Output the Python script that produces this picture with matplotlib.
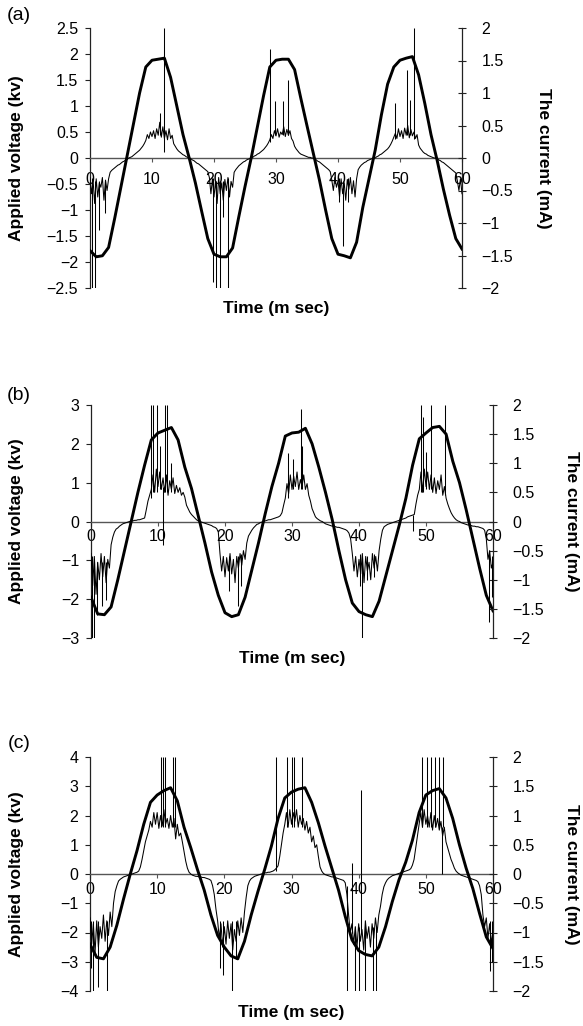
import numpy as np
import matplotlib
matplotlib.use("Agg")
import matplotlib.pyplot as plt
from matplotlib.ticker import FuncFormatter, MultipleLocator

plt.rcParams['font.family'] = ['Liberation Sans', 'DejaVu Sans']

# ---------------- data ----------------
time_ms = np.arange(0, 61)            # voltage samples, 1 ms apart
cur_time_ms = np.arange(0, 241) * 0.25  # current samples, 0.25 ms apart

volt_a = [-1.78, -1.90, -1.88, -1.72, -1.15, -0.55, 0.05, 0.65, 1.25, 1.75,
          1.88, 1.90, 1.92, 1.55, 1.00, 0.45, 0.00, -0.48, -1.02, -1.55,
          -1.85, -1.90, -1.90, -1.73, -1.13, -0.55, 0.00, 0.60, 1.20, 1.75,
          1.88, 1.90, 1.90, 1.70, 1.15, 0.62, 0.10, -0.42, -1.00, -1.55,
          -1.85, -1.88, -1.92, -1.62, -0.95, -0.40, 0.15, 0.83, 1.42, 1.75,
          1.88, 1.92, 1.95, 1.60, 1.05, 0.45, -0.05, -0.60, -1.10, -1.55,
          -1.75]

volt_b = [-1.95, -2.38, -2.40, -2.20, -1.50, -0.75, 0.00, 0.75, 1.45, 2.10,
          2.28, 2.35, 2.42, 2.10, 1.40, 0.85, 0.15, -0.55, -1.30, -1.90,
          -2.35, -2.45, -2.40, -1.95, -1.25, -0.55, 0.20, 0.90, 1.50, 2.20,
          2.28, 2.30, 2.40, 2.00, 1.40, 0.75, 0.05, -0.75, -1.50, -2.10,
          -2.32, -2.40, -2.45, -2.05, -1.40, -0.75, -0.10, 0.60, 1.45, 2.13,
          2.28, 2.42, 2.45, 2.25, 1.55, 1.00, 0.30, -0.45, -1.20, -1.90,
          -2.30]

volt_c = [-2.40, -2.85, -2.90, -2.50, -1.75, -0.85, 0.00, 0.80, 1.70, 2.45,
          2.70, 2.85, 2.95, 2.50, 1.60, 0.90, 0.15, -0.55, -1.40, -2.10,
          -2.50, -2.80, -2.90, -2.30, -1.40, -0.60, 0.15, 0.95, 1.90, 2.60,
          2.80, 2.90, 2.95, 2.45, 1.75, 0.95, 0.20, -0.55, -1.45, -2.25,
          -2.62, -2.75, -2.80, -2.50, -1.80, -0.95, -0.20, 0.40, 1.15, 2.10,
          2.70, 2.85, 2.92, 2.60, 1.90, 1.00, 0.20, -0.50, -1.35, -2.15,
          -2.55]

cur_a = [-0.30, -0.55, -0.35, -0.70, -0.32, -0.60, -0.38, -0.45,
         -0.30, -0.65, -0.34, -0.50, -0.32, -0.22, -0.19, -0.17,
         -0.15, -0.13, -0.11, -0.10, -0.08, -0.06, -0.05, -0.03,
         -0.02, 0.00, 0.01, 0.02, 0.04, 0.06, 0.08, 0.10,
         0.12, 0.15, 0.18, 0.22, 0.27, 0.36, 0.30, 0.40,
         0.33, 0.42, 0.30, 0.45, 0.35, 0.55, 0.32, 0.48,
         0.30, 0.42, 0.28, 0.45, 0.30, 0.35, 0.22, 0.18,
         0.14, 0.11, 0.09, 0.07, 0.05, 0.04, 0.02, 0.01,
         0.00, -0.01, -0.03, -0.04, -0.06, -0.08, -0.09, -0.11,
         -0.13, -0.15, -0.17, -0.19, -0.21, -0.30, -0.55, -0.32,
         -0.60, -0.35, -0.70, -0.30, -0.55, -0.38, -0.65, -0.33,
         -0.50, -0.30, -0.60, -0.36, -0.45, -0.22, -0.18, -0.15,
         -0.12, -0.10, -0.08, -0.06, -0.05, -0.03, -0.02, -0.01,
         0.00, 0.01, 0.03, 0.04, 0.06, 0.07, 0.09, 0.11,
         0.13, 0.16, 0.19, 0.23, 0.28, 0.36, 0.30, 0.42,
         0.34, 0.45, 0.32, 0.40, 0.36, 0.48, 0.33, 0.44,
         0.35, 0.42, 0.30, 0.26, 0.18, 0.14, 0.11, 0.08,
         0.06, 0.05, 0.04, 0.03, 0.02, 0.01, 0.01, 0.00,
         0.00, -0.02, -0.03, -0.05, -0.06, -0.08, -0.10, -0.12,
         -0.14, -0.16, -0.18, -0.21, -0.34, -0.50, -0.30, -0.45,
         -0.35, -0.60, -0.32, -0.55, -0.38, -0.65, -0.33, -0.48,
         -0.30, -0.55, -0.35, -0.60, -0.32, -0.18, -0.14, -0.11,
         -0.09, -0.07, -0.06, -0.04, -0.03, -0.02, -0.01, 0.00,
         0.00, 0.02, 0.03, 0.05, 0.06, 0.08, 0.10, 0.12,
         0.14, 0.17, 0.21, 0.26, 0.32, 0.38, 0.30, 0.45,
         0.33, 0.42, 0.30, 0.46, 0.35, 0.50, 0.31, 0.44,
         0.34, 0.40, 0.30, 0.36, 0.20, 0.15, 0.12, 0.09,
         0.07, 0.06, 0.04, 0.03, 0.02, 0.01, 0.00, 0.00,
         -0.01, -0.03, -0.04, -0.06, -0.07, -0.09, -0.11, -0.13,
         -0.15, -0.17, -0.19, -0.21, -0.23, -0.35, -0.50, -0.32,
         -0.55]

cur_b = [-0.55, -1.10, -0.60, -1.25, -0.70, -1.00, -0.55, -0.95,
         -0.60, -1.05, -0.65, -0.80, -0.40, -0.27, -0.18, -0.13,
         -0.11, -0.08, -0.06, -0.04, -0.03, -0.02, -0.01, 0.00,
         0.01, 0.01, 0.02, 0.02, 0.03, 0.03, 0.04, 0.05,
         0.06, 0.20, 0.35, 0.45, 0.55, 0.80, 0.50, 0.90,
         0.60, 0.85, 0.55, 0.75, 0.50, 0.80, 0.45, 0.70,
         0.55, 0.75, 0.48, 0.62, 0.50, 0.58, 0.45, 0.50,
         0.42, 0.28, 0.22, 0.16, 0.12, 0.09, 0.06, 0.03,
         0.01, 0.00, -0.01, -0.02, -0.03, -0.04, -0.05, -0.06,
         -0.07, -0.09, -0.10, -0.12, -0.18, -0.55, -0.85, -0.60,
         -0.95, -0.62, -0.85, -0.55, -0.90, -0.65, -1.05, -0.60,
         -0.80, -0.55, -0.75, -0.50, -0.65, -0.37, -0.25, -0.20,
         -0.15, -0.11, -0.08, -0.05, -0.04, -0.02, -0.01, 0.00,
         0.01, 0.02, 0.03, 0.03, 0.04, 0.05, 0.06, 0.07,
         0.08, 0.10, 0.15, 0.28, 0.40, 0.65, 0.48, 0.80,
         0.55, 0.78, 0.60, 0.85, 0.55, 0.72, 0.60, 0.80,
         0.55, 0.65, 0.45, 0.35, 0.22, 0.15, 0.08, 0.05,
         0.03, 0.01, 0.00, -0.02, -0.04, -0.05, -0.06, -0.07,
         -0.08, -0.08, -0.09, -0.10, -0.10, -0.11, -0.12, -0.13,
         -0.14, -0.16, -0.20, -0.30, -0.55, -0.85, -0.60, -0.95,
         -0.65, -0.90, -0.55, -1.05, -0.60, -0.85, -0.70, -1.00,
         -0.55, -0.80, -0.60, -0.85, -0.50, -0.30, -0.15, -0.09,
         -0.07, -0.05, -0.04, -0.03, -0.02, -0.01, 0.00, 0.01,
         0.02, 0.03, 0.04, 0.05, 0.06, 0.08, 0.09, 0.10,
         0.11, 0.12, 0.30, 0.45, 0.55, 0.85, 0.50, 0.90,
         0.60, 0.85, 0.55, 0.80, 0.50, 0.75, 0.48, 0.70,
         0.55, 0.80, 0.45, 0.60, 0.40, 0.30, 0.22, 0.15,
         0.10, 0.06, 0.03, 0.01, 0.00, -0.02, -0.03, -0.04,
         -0.05, -0.06, -0.06, -0.07, -0.08, -0.08, -0.09, -0.09,
         -0.10, -0.11, -0.12, -0.15, -0.30, -0.65, -0.50, -0.80,
         -0.70]

cur_c = [-0.75, -1.20, -0.85, -1.35, -0.80, -1.25, -0.90, -1.10,
         -0.70, -1.15, -0.80, -1.05, -0.65, -0.90, -0.50, -0.30,
         -0.20, -0.12, -0.09, -0.07, -0.05, -0.04, -0.03, -0.02,
         -0.01, 0.00, 0.01, 0.02, 0.03, 0.05, 0.12, 0.25,
         0.40, 0.55, 0.65, 0.75, 0.90, 0.80, 1.05, 0.85,
         1.05, 0.78, 1.00, 0.82, 1.10, 0.85, 0.95, 0.78,
         1.00, 0.80, 0.95, 0.60, 0.85, 0.65, 0.70, 0.55,
         0.38, 0.22, 0.10, 0.03, 0.00, -0.02, -0.03, -0.04,
         -0.04, -0.05, -0.05, -0.06, -0.06, -0.07, -0.08, -0.09,
         -0.11, -0.20, -0.35, -0.60, -0.80, -1.10, -0.85, -1.25,
         -0.90, -1.20, -0.80, -1.10, -0.85, -1.30, -0.95, -1.15,
         -0.80, -1.05, -0.75, -1.00, -0.65, -0.40, -0.20, -0.12,
         -0.08, -0.06, -0.04, -0.03, -0.02, -0.01, 0.00, 0.01,
         0.02, 0.02, 0.03, 0.03, 0.04, 0.05, 0.07, 0.10,
         0.14, 0.30, 0.50, 0.70, 0.85, 1.05, 0.80, 1.10,
         0.85, 1.05, 0.90, 1.10, 0.80, 1.00, 0.85, 0.95,
         0.75, 0.90, 0.70, 0.80, 0.55, 0.65, 0.45, 0.50,
         0.30, 0.12, 0.05, 0.01, -0.01, -0.02, -0.03, -0.04,
         -0.05, -0.05, -0.06, -0.07, -0.08, -0.09, -0.10, -0.11,
         -0.15, -0.35, -0.70, -1.00, -0.85, -1.20, -0.90, -1.25,
         -0.85, -1.15, -0.95, -1.30, -0.80, -1.10, -0.90, -1.25,
         -0.85, -1.10, -0.75, -1.00, -0.70, -0.55, -0.35, -0.22,
         -0.15, -0.10, -0.07, -0.05, -0.03, -0.02, -0.01, 0.00,
         0.01, 0.02, 0.03, 0.04, 0.05, 0.06, 0.07, 0.09,
         0.15, 0.25, 0.45, 0.65, 0.85, 1.05, 0.80, 1.10,
         0.85, 1.00, 0.80, 1.05, 0.75, 1.00, 0.80, 0.95,
         0.75, 0.90, 0.65, 0.80, 0.55, 0.45, 0.35, 0.25,
         0.18, 0.10, 0.05, 0.02, 0.00, -0.02, -0.03, -0.04,
         -0.05, -0.06, -0.07, -0.08, -0.09, -0.10, -0.11, -0.13,
         -0.20, -0.35, -0.70, -0.90, -0.75, -1.10, -0.85, -1.20,
         -0.95]

# discharge spikes in the current trace (time, low end, high end) in mA
spike_a_t = [0.3, 0.8, 1.4, 2.4, 11.3, 12.0, 19.8, 20.3, 20.9, 21.5, 22.2,
             29.0, 29.8, 31.1, 31.9, 40.2, 40.8, 41.6, 49.2, 51.1, 51.6, 52.3, 60.0]
spike_a_lo = [-2.0, -2.0, -1.1, -0.85, 0.35, 0.10, -1.9, -2.0, -2.0, -0.9, -2.0,
              0.25, 0.35, 0.35, 0.35, -0.68, -1.36, -0.68, 0.30, 0.35, 0.35, 0.30, -0.8]
spike_a_hi = [-0.3, -0.35, -0.35, -0.35, 0.69, 2.0, -0.3, -0.35, -0.35, -0.35, -0.3,
              1.68, 0.88, 0.88, 1.2, -0.3, -0.35, -0.3, 0.85, 1.36, 0.9, 2.0, -0.45]

spike_b_t = [0.1, 0.4, 0.9, 1.6, 2.2, 8.9, 9.3, 9.9, 10.3, 10.7, 11.0, 11.3, 12.0,
             20.6, 21.9, 22.4, 29.4, 30.2, 31.3, 31.5, 40.1, 40.5, 41.2, 42.3,
             48.1, 49.3, 49.6, 50.0, 50.8, 52.8, 59.4, 59.8]
spike_b_lo = [-2.0, -2.0, -1.6, -1.45, -1.35, 0.4, 0.5, 0.5, 0.55, -0.4, 0.5, 0.5, 0.5,
              -1.2, -1.45, -1.1, 0.4, 0.55, 0.55, 0.55, -1.1, -2.0, -1.0, -0.95,
              -0.17, 0.5, 0.5, 0.55, 0.55, 0.45, -1.73, -1.3]
spike_b_hi = [-0.6, -0.7, -0.7, -0.7, -0.7, 2.0, 2.0, 2.0, 1.3, 0.6, 2.0, 2.0, 1.0,
              -0.6, -0.6, -0.55, 1.17, 1.07, 1.93, 1.3, -0.55, -0.6, -0.6, -0.55,
              0.12, 2.0, 1.8, 1.2, 2.0, 2.0, -0.5, -0.6]

spike_c_t = [0.2, 0.5, 1.2, 2.5, 10.6, 10.8, 11.1, 12.3, 12.6, 19.3, 19.8, 21.1, 21.8,
             27.7, 29.3, 30.0, 30.3, 31.5, 38.2, 39.0, 39.4, 40.1, 40.4, 40.9, 42.1,
             42.6, 49.4, 50.2, 50.7, 51.4, 51.9, 52.4, 52.6, 59.5, 59.8]
spike_c_lo = [-1.6, -2.0, -1.93, -2.0, 0.8, 0.8, 0.8, 0.8, 0.8, -1.6, -1.73, -2.0, -1.45,
              0.05, 0.8, 0.8, 0.8, 0.8, -2.0, -1.0, -2.0, -2.0, -1.0, -2.0, -2.0,
              -2.0, 0.8, 0.8, 0.8, 0.8, 0.8, 0.0, 0.8, -1.65, -1.5]
spike_c_hi = [-0.8, -0.8, -0.8, -0.8, 2.0, 2.0, 2.0, 2.0, 2.0, -0.8, -0.8, -0.8, -0.8,
              2.0, 2.0, 2.0, 2.0, 2.0, -0.2, 0.18, -0.9, -0.9, 1.43, -0.9, -0.9,
              -0.9, 2.0, 2.0, 2.0, 2.0, 2.0, 0.8, 2.0, -0.8, -0.8]

x_ticks = [0, 10, 20, 30, 40, 50, 60]
panel_tags = ['(a)', '(b)', '(c)']
volt_limits = [2.5, 3, 4]
volt_steps = [0.5, 1, 1]
cur_limit = 2
cur_step = 0.5

# ---------------- layout (pixels) ----------------
W, H = 583, 1026
fig = plt.figure(figsize=(W / 100, H / 100), dpi=100)

boxes = [(90, 28, 462, 288), (91, 405, 493, 638), (90, 757, 493, 991)]
xpads = [7.0, 2.5, 3.0]
right_label_x = [543, 571, 571]
tag_y = [15, 395, 743]

volts = [volt_a, volt_b, volt_c]
curs = [cur_a, cur_b, cur_c]
spikes = [(spike_a_t, spike_a_lo, spike_a_hi),
          (spike_b_t, spike_b_lo, spike_b_hi),
          (spike_c_t, spike_c_lo, spike_c_hi)]

TICK_FS = 11.5
LABEL_FS = 12.5

def fmt(v, pos):
    if abs(v) < 1e-9:
        return '0'
    return f"{v:g}".replace('-', '\u2212')

for i in range(3):
    x0, y0, x1, y1 = boxes[i]
    ax = fig.add_axes([x0 / W, 1 - y1 / H, (x1 - x0) / W, (y1 - y0) / H])
    ax2 = ax.twinx()

    lim = volt_limits[i]
    ax.set_xlim(0, 60)
    ax.set_ylim(-lim, lim)
    ax2.set_ylim(-cur_limit, cur_limit)

    # voltage (thick) on left axis, current (thin) on right axis
    ax.plot(time_ms, volts[i], color='black', lw=2.1, zorder=3)
    ax2.plot(cur_time_ms, curs[i], color='black', lw=0.75, zorder=3)
    st, slo, shi = spikes[i]
    ax2.vlines(st, slo, shi, color='black', lw=0.75, zorder=3)

    for a in (ax, ax2):
        a.patch.set_visible(False)
        a.spines['top'].set_visible(False)
    ax.spines['right'].set_visible(False)
    ax2.spines['left'].set_visible(False)
    ax2.spines['bottom'].set_visible(False)

    ax.spines['bottom'].set_position(('data', 0))
    ax.spines['bottom'].set_color('#555555')
    ax.spines['bottom'].set_linewidth(1.0)
    ax.spines['left'].set_color('#222222')
    ax.spines['left'].set_linewidth(0.9)
    ax2.spines['right'].set_color('#222222')
    ax2.spines['right'].set_linewidth(0.9)

    ax.set_xticks(x_ticks)
    ax.yaxis.set_major_locator(MultipleLocator(volt_steps[i]))
    ax2.yaxis.set_major_locator(MultipleLocator(cur_step))
    ax.yaxis.set_major_formatter(FuncFormatter(fmt))
    ax2.yaxis.set_major_formatter(FuncFormatter(fmt))

    ax.tick_params(axis='x', direction='out', length=3, width=0.8, color='#555555',
                   pad=xpads[i], labelsize=TICK_FS)
    ax.tick_params(axis='y', direction='out', length=3.5, width=0.8, color='#222222',
                   pad=5, labelsize=TICK_FS)
    ax2.tick_params(axis='y', direction='inout', length=6, width=0.8, color='#222222',
                    pad=11, labelsize=TICK_FS)

    cy = 1 - (y0 + y1) / 2 / H
    fig.text(17 / W, cy, 'Applied voltage (kv)', rotation=90, ha='center', va='center',
             fontsize=LABEL_FS, fontweight='bold')
    fig.text(right_label_x[i] / W, cy, 'The current (mA)', rotation=-90, ha='center',
             va='center', fontsize=LABEL_FS, fontweight='bold')
    fig.text((x0 + x1) / 2 / W, 1 - (y1 + 21) / H, 'Time (m sec)', ha='center',
             va='center', fontsize=LABEL_FS, fontweight='bold')
    fig.text(19 / W, 1 - tag_y[i] / H, panel_tags[i], ha='center', va='center',
             fontsize=14)

fig.savefig('out.png', dpi=100)
